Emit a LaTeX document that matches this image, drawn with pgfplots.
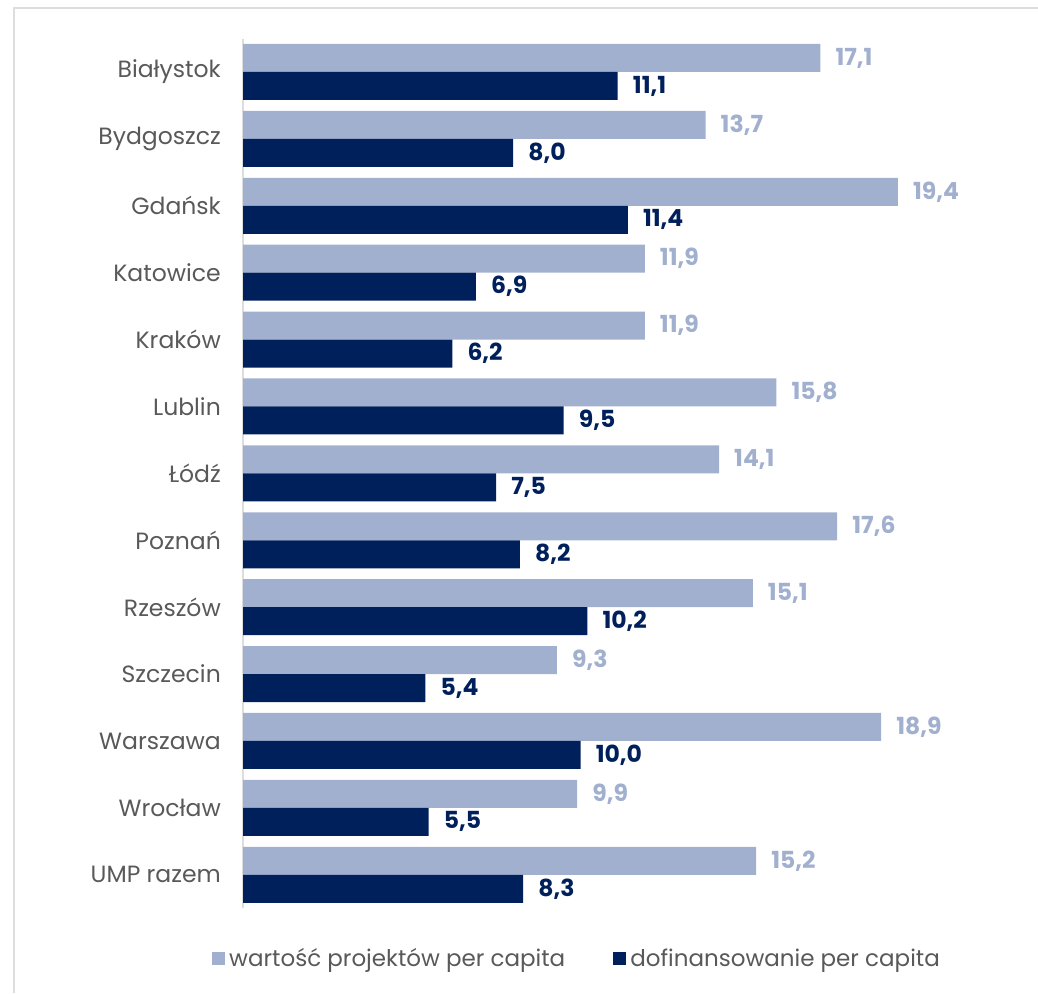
\documentclass[border=0pt]{standalone}
\usepackage{fontspec}
\setmainfont{Poppins}
\usepackage{pgfplots}
\usepackage{pgfplotstable}
\pgfplotsset{compat=1.18}
\definecolor{lightser}{HTML}{A2B0CF}
\definecolor{darkser}{HTML}{00205C}
\definecolor{txtgray}{HTML}{595959}
\definecolor{framegray}{HTML}{DDDDDD}
\pgfplotstableread{
idx light dark
0 17.1 11.1
1 13.7 8.0
2 19.4 11.4
3 11.9 6.9
4 11.9 6.2
5 15.8 9.5
6 14.1 7.5
7 17.6 8.2
8 15.1 10.2
9 9.3 5.4
10 18.9 10.0
11 9.9 5.5
12 15.2 8.3
}\datatable
\begin{document}
\begin{tikzpicture}
\useasboundingbox (0,0) rectangle (1038pt,-993pt);
\fill[white] (0,0) rectangle (1038pt,-993pt);
\draw[framegray, line width=2.5pt] (14pt,-993pt) -- (14pt,-8pt) -- (1038pt,-8pt);
\begin{axis}[
  at={(243pt,-38.5pt)}, anchor=north west,
  scale only axis,
  width=675.2pt, height=869.7pt,
  xmin=0, xmax=20,
  ymin=-0.5, ymax=12.5,
  y dir=reverse,
  hide x axis,
  axis y line*=left,
  y axis line style={draw=framegray, line width=1.2pt, -},
  ytick={0,...,12},
  yticklabels={Białystok,Bydgoszcz,Gdańsk,Katowice,Kraków,Lublin,Łódź,Poznań,Rzeszów,Szczecin,Warszawa,Wrocław,UMP razem},
  yticklabel style={font=\fontsize{23.5}{26}\selectfont, text=txtgray, inner sep=0pt, xshift=-22pt},
  major tick length=0pt,
  xbar, bar width=28pt, bar shift=0pt,
  /pgf/number format/.cd, fixed, fixed zerofill, precision=1, use comma, assume math mode=true,
  /pgfplots/.cd,
  nodes near coords,
  nodes near coords align={horizontal},
  every node near coord/.append style={font=\bfseries\fontsize{23.5}{26}\selectfont, anchor=west, inner sep=0pt, xshift=15pt},
  legend columns=2,
  legend style={draw=none, fill=none, at={(0.4947,-0.0573)}, anchor=center,
    font=\fontsize{23}{26}\selectfont, text=txtgray,
    /tikz/every odd column/.append style={column sep=2pt},
    /tikz/every even column/.append style={column sep=46pt}},
  legend image code/.code={\fill[#1] (0pt,-6.5pt) rectangle (13pt,6.5pt);},
  clip=false,
]
\addplot[fill=lightser, draw=none, every node near coord/.append style={text=lightser}]
  table[x=light, y expr=\thisrow{idx}-0.2093] {\datatable};
\addlegendentry{wartość projektów per capita}
\addplot[fill=darkser, draw=none, every node near coord/.append style={text=darkser}]
  table[x=dark, y expr=\thisrow{idx}+0.2093] {\datatable};
\addlegendentry{dofinansowanie per capita}
\end{axis}
\end{tikzpicture}
\end{document}
